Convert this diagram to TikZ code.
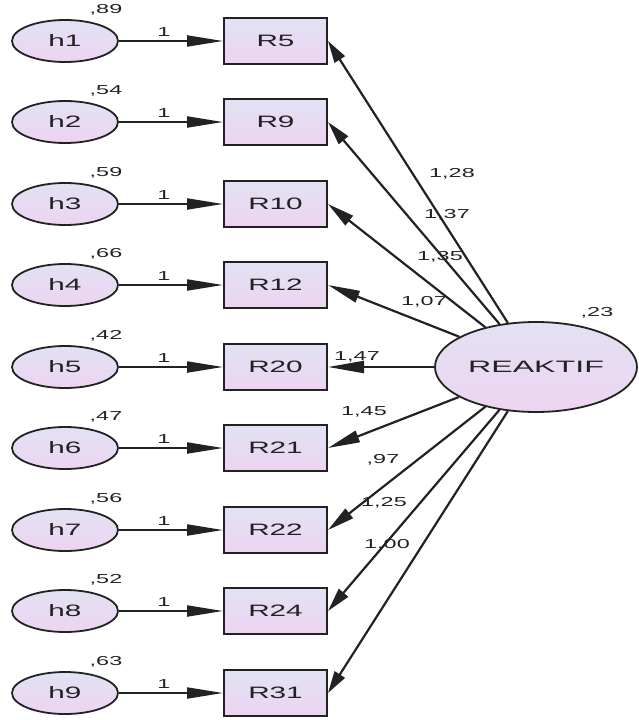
\documentclass[tikz,border=0pt]{standalone}
\usepackage{fontspec}
\setmainfont{Liberation Sans}[FakeStretch=1.8]
\newfontfamily\latentfont{Liberation Sans}[FakeStretch=1.95]
\usetikzlibrary{shapes.geometric,arrows.meta}
\definecolor{ink}{HTML}{222222}
\definecolor{shadetop}{RGB}{226,226,244}
\definecolor{shadebot}{RGB}{237,212,241}
\tikzset{
  obs/.style={draw=ink, line width=2pt, rectangle, minimum width=103pt,
    minimum height=46pt, inner sep=0pt, top color=shadetop, bottom color=shadebot,
    text=ink, font=\fontsize{16.5}{18}\selectfont},
  err/.style={draw=ink, line width=1.8pt, ellipse, minimum width=106pt,
    minimum height=42pt, inner sep=0pt, top color=shadetop, bottom color=shadebot,
    text=ink, font=\fontsize{16.5}{18}\selectfont},
  lat/.style={draw=ink, line width=1.8pt, ellipse, minimum width=202pt,
    minimum height=90pt, inner sep=0pt, top color=shadetop, bottom color=shadebot,
    text=ink, font=\latentfont\fontsize{16.5}{18}\selectfont},
  num/.style={inner sep=0pt, text=ink, font=\fontsize{13}{15}\selectfont},
  fixedpath/.style={draw=ink, line width=2pt, -{Triangle[length=36pt,width=11pt]}},
  loading/.style={draw=ink, line width=2.2pt, -{Triangle[length=#1,width=12pt]}},
}
\begin{document}
\begin{tikzpicture}[x=1pt,y=-1pt]
\useasboundingbox (0,0) rectangle (638,720);

% latent factor and its variance
\node[lat] (reak) at (536,367) {REAKTIF};
\node[num] (vreak) at (597,313) {,23};

% error terms, indicators and the fixed error paths
\foreach \i/\r/\v [count=\k from 0] in
  {1/R5/{,89}, 2/R9/{,54}, 3/R10/{,59}, 4/R12/{,66}, 5/R20/{,42},
   6/R21/{,47}, 7/R22/{,56}, 8/R24/{,52}, 9/R31/{,63}} {
  \pgfmathsetmacro{\yy}{int(41+81.5*\k)}
  \node[err] (h\i) at (65,\yy) {h\i};
  \node[obs] (\r) at (275.5,\yy) {\r};
  \node[num] (v\i) at (106,\yy-31) {\v};
  \node[num] (one\i) at (164,\yy-9) {1};
  \draw[fixedpath] (h\i) -- (\r);
}

% factor loadings
\draw[loading=22pt] (reak) -- (R5.east);
\draw[loading=24pt] (reak) -- (R9.east);
\draw[loading=27pt] (reak) -- (R10.east);
\draw[loading=32pt] (reak) -- (R12.east);
\draw[loading=36pt] (reak) -- (R20.east);
\draw[loading=32pt] (reak) -- (R21.east);
\draw[loading=27pt] (reak) -- (R22.east);
\draw[loading=24pt] (reak) -- (R24.east);
\draw[loading=22pt] (reak) -- (R31.east);

% loading estimates
\node[num] (l5)  at (452,174) {1,28};
\node[num] (l9)  at (447,215) {1,37};
\node[num] (l10) at (440,257) {1,35};
\node[num] (l12) at (424,302) {1,07};
\node[num] (l20) at (357,357) {1,47};
\node[num] (l21) at (364,412) {1,45};
\node[num] (l22) at (383,460) {,97};
\node[num] (l24) at (384,503) {1,25};
\node[num] (l31) at (387,545) {1,00};
\end{tikzpicture}
\end{document}
